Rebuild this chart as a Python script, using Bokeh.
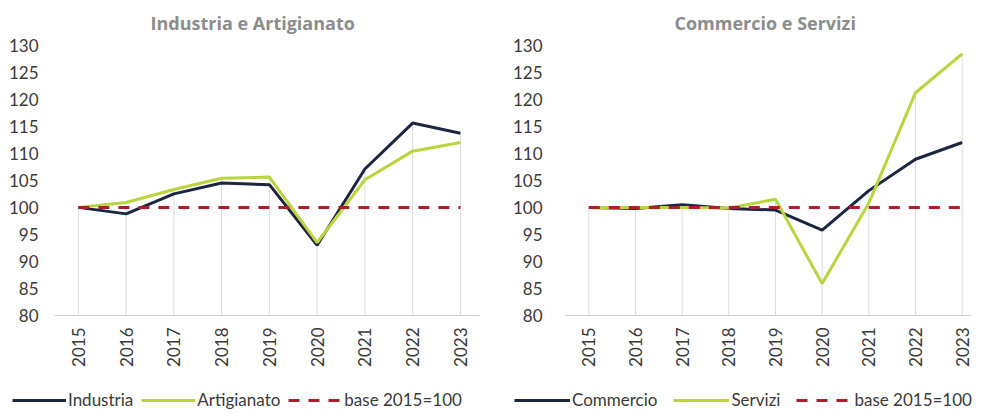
from bokeh.plotting import figure
from bokeh.layouts import column, row
from bokeh.models import FixedTicker, Legend, LegendItem, ColumnDataSource
from bokeh.embed import file_html
from bokeh.resources import INLINE

years = [2015, 2016, 2017, 2018, 2019, 2020, 2021, 2022, 2023]
industria = [100, 98.8, 102.5, 104.5, 104.2, 93.0, 107.1, 115.6, 113.7]
artigianato = [100, 100.9, 103.3, 105.4, 105.6, 93.5, 105.1, 110.4, 112.0]
commercio = [100, 99.8, 100.5, 99.8, 99.5, 95.8, 103.1, 108.9, 112.0]
servizi = [100, 100.0, 100.0, 99.9, 101.5, 85.9, 100.8, 121.2, 128.4]
base = [100] * 9
y_ticks = [80, 85, 90, 95, 100, 105, 110, 115, 120, 125, 130]

NAVY = "#1d2640"
GREEN = "#bad43e"
RED = "#b01c2e"
FONT = "Lato"


def draw_series(p, src):
    ra = p.line("x", "a", source=src, line_color=NAVY, line_width=3)
    rb = p.line("x", "b", source=src, line_color=GREEN, line_width=3)
    rc = p.line("x", "base", source=src, line_color=RED, line_width=3, line_dash="11 9")
    return ra, rb, rc


def make_panel(title, title_offset, vals_a, vals_b, x_end, border_left, standoff, width):
    p = figure(width=width, height=369, output_backend="svg", toolbar_location=None,
               x_range=(2014.5, x_end), y_range=(80, 130.5),
               min_border_left=border_left, min_border_right=3,
               min_border_top=40, min_border_bottom=54)
    p.title.text = title
    p.title.align = "left"
    p.title.offset = title_offset
    p.title.standoff = 16
    p.title.text_font = "Open Sans"
    p.title.text_font_size = "18px"
    p.title.text_font_style = "bold"
    p.title.text_color = "#8c8c8c"
    p.outline_line_color = None
    p.grid.visible = False

    tops = [max(a, b) for a, b in zip(vals_a, vals_b)]
    src = ColumnDataSource(dict(x=years, a=vals_a, b=vals_b, base=base, top=tops, bottom=[80] * 9))
    p.segment(x0="x", y0="bottom", x1="x", y1="top", source=src, line_color="#dcdcdc", line_width=1)
    draw_series(p, src)

    p.xaxis.ticker = FixedTicker(ticks=years)
    p.xaxis.major_label_orientation = 1.5708
    p.xaxis.axis_line_color = "#d0d0d0"
    p.xaxis.major_tick_line_color = None
    p.xaxis.minor_tick_line_color = None
    p.xaxis.major_label_standoff = 6
    p.yaxis.ticker = FixedTicker(ticks=y_ticks)
    p.yaxis.axis_line_color = None
    p.yaxis.major_tick_line_color = None
    p.yaxis.minor_tick_line_color = None
    p.yaxis.major_label_standoff = standoff
    for ax in (p.xaxis, p.yaxis):
        ax.major_label_text_font = FONT
        ax.major_label_text_font_size = "17px"
        ax.major_label_text_color = "#3a3a3a"
    return p, src


def make_legend(width, src, name_a, name_b, leg_x, glyph_w, spacing):
    lf = figure(width=width, height=41, output_backend="svg", toolbar_location=None,
                x_range=(0, 1), y_range=(0, 1),
                min_border_left=0, min_border_right=0, min_border_top=0, min_border_bottom=0)
    lf.axis.visible = False
    lf.grid.visible = False
    lf.outline_line_color = None
    ra, rb, rc = draw_series(lf, src)
    leg = Legend(items=[LegendItem(label=name_a, renderers=[ra]),
                        LegendItem(label=name_b, renderers=[rb]),
                        LegendItem(label="base 2015=100", renderers=[rc])],
                 orientation="horizontal", location=(leg_x, 0),
                 glyph_width=glyph_w, glyph_height=20, label_standoff=2, spacing=spacing,
                 padding=0, margin=0, border_line_color=None, background_fill_alpha=0,
                 label_text_font=FONT, label_text_font_size="17px", label_text_color="#3a3a3a")
    lf.add_layout(leg, "center")
    return lf


p1, s1 = make_panel("Industria e Artigianato", 96, industria, artigianato, 2023.4, 54, 10, 482)
p2, s2 = make_panel("Commercio e Servizi", 109, commercio, servizi, 2023.2, 83, 17, 492)
l1 = make_legend(482, s1, "Industria", "Artigianato", 12, 54, 8)
l2 = make_legend(492, s2, "Commercio", "Servizi", 32, 56, 16)
p = column(row(p1, p2), row(l1, l2))

open("out.html", "w").write(file_html(p, INLINE))
